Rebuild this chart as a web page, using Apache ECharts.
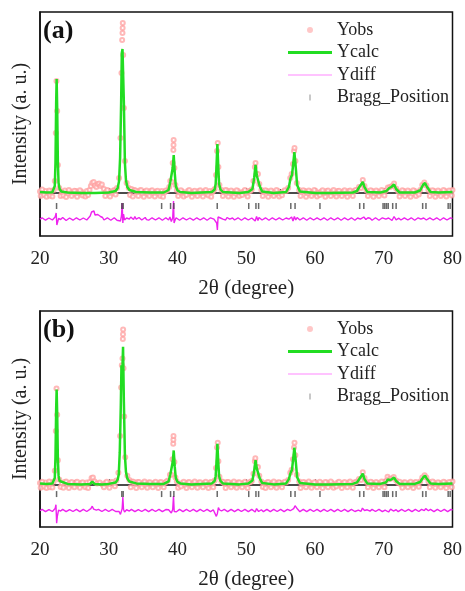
<!DOCTYPE html>
<html lang="en">
<head>
    <meta charset="UTF-8">
    <title>XRD refinement</title>
</head>
<style type="text/css">
    body{
        margin:0;
        background:#fff;
    }
    .xrd-chart{
        width: 465px;
        height: 591px;
    }
</style>
<body>
    <div class="xrd-chart"></div>
</body>
<script type="text/javascript" src="https://cdn.jsdelivr.net/npm/echarts@6/dist/echarts.min.js"></script>
<script type="text/javascript">
var xTicks = [20, 30, 40, 50, 60, 70, 80];

// Bragg reflection positions (2theta), same phase in both panels
var braggPos = [22.41, 31.9, 32.1, 37.69, 38.99, 39.47, 45.78, 50.36, 51.41, 51.8,
    56.48, 57.1, 60.72, 66.5, 67.1, 69.9, 70.15, 70.4, 70.65, 71.3, 71.8,
    75.66, 76.14, 79.37, 79.66];

// ---- panel (a) ----
var obsA = [[20,15],[20.4,-10],[20.8,20],[21.2,0],[21.6,18],[22.0,30],[22.15,120],[22.3,600],[22.4,1120],[22.5,820],[22.6,280],[22.8,50],
    [23.2,10],[23.6,25],[24.0,-5],[24.4,15],[24.8,-10],[25.2,20],[25.6,0],[26.0,15],[26.4,-10],[26.8,20],[27.2,30],[27.4,70],[27.6,100],
    [27.8,110],[28.0,75],[28.2,60],[28.4,90],[28.6,95],[28.8,70],[29.0,85],[29.3,40],[29.6,10],[30.0,20],[30.4,-5],[30.8,30],[31.2,50],
    [31.5,150],[31.7,550],[31.85,1200],[31.95,1530],[32.0,1600],[32.02,1650],[32.04,1700],[32.1,1380],[32.2,850],[32.35,320],[32.6,100],
    [32.9,50],[33.3,40],[33.7,30],[34.1,10],[34.5,25],[34.9,-5],[35.3,15],[35.7,-10],[36.1,20],[36.5,0],[36.9,15],[37.3,-5],[37.7,20],
    [38.1,5],[38.5,25],[38.8,60],[38.95,120],[39.15,110],[39.3,300],[39.4,430],[39.42,480],[39.44,530],[39.55,250],[39.7,80],[39.9,30],
    [40.3,0],[40.7,15],[41.1,-10],[41.5,20],[41.9,0],[42.3,15],[42.7,-5],[43.1,20],[43.5,0],[43.9,15],[44.3,-10],[44.7,20],[45.1,10],
    [45.4,40],[45.6,180],[45.75,420],[45.85,500],[45.95,260],[46.1,80],[46.4,30],[46.8,10],[47.2,25],[47.6,-5],[48.0,15],[48.4,-10],
    [48.8,20],[49.2,0],[49.6,15],[50.0,-5],[50.4,20],[50.8,35],[51.05,120],[51.25,260],[51.35,300],[51.5,190],[51.7,190],[51.9,90],
    [52.2,30],[52.6,10],[53.0,20],[53.4,-5],[53.8,15],[54.2,-10],[54.6,20],[55.0,0],[55.4,15],[55.8,20],[56.1,50],[56.4,150],[56.6,190],
    [56.8,290],[56.95,420],[57.02,450],[57.15,320],[57.35,100],[57.7,30],[58.1,10],[58.5,20],[58.9,-5],[59.3,15],[59.7,-10],[60.1,20],
    [60.5,0],[60.9,15],[61.3,-5],[61.7,20],[62.1,0],[62.5,15],[62.9,-10],[63.3,20],[63.7,0],[64.1,15],[64.5,-5],[64.9,20],[65.3,5],
    [65.7,20],[66.1,30],[66.4,60],[66.7,50],[66.95,130],[67.2,70],[67.5,25],[67.9,5],[68.3,20],[68.7,-5],[69.1,15],[69.5,0],[69.9,20],
    [70.3,25],[70.6,55],[70.9,60],[71.2,70],[71.5,95],[71.8,45],[72.1,15],[72.5,0],[72.9,20],[73.3,-5],[73.7,15],[74.1,-10],[74.5,20],
    [74.9,5],[75.3,30],[75.6,80],[75.9,105],[76.2,75],[76.5,30],[76.9,10],[77.3,20],[77.7,-5],[78.1,15],[78.5,-10],[78.9,20],[79.3,0],
    [79.7,20],[80.0,30]];

// extra observed points along the background (the scatter band)
var obsBgA = [[20.1,-30],[20.3,35],[20.6,-20],[20.95,-38],[21.35,25],[21.45,-28],[21.8,-35],[23.0,-30],[23.4,-25],[23.8,-40],[24.2,30],
    [24.6,-30],[25.0,22],[25.4,-38],[25.8,28],[26.2,-25],[26.6,-35],[27.0,-20],[29.5,-30],[29.8,30],[30.2,-35],[30.6,20],[31.0,-15],
    [33.1,-20],[33.5,-35],[33.9,25],[34.3,-30],[34.7,30],[35.1,-38],[35.5,25],[35.9,-30],[36.3,28],[36.7,-35],[37.1,22],[37.5,-30],
    [37.9,-38],[38.3,25],[40.1,-30],[40.5,28],[40.9,-35],[41.3,-20],[41.7,30],[42.1,-38],[42.5,22],[42.9,-30],[43.3,28],[43.7,-35],
    [44.1,30],[44.5,-25],[44.9,-38],[45.2,25],[46.6,-30],[47.0,30],[47.4,-35],[47.8,25],[48.2,-38],[48.6,28],[49.0,-30],[49.4,-20],
    [49.8,30],[50.2,-35],[50.6,20],[52.4,-30],[52.8,28],[53.2,-38],[53.6,25],[54.0,-30],[54.4,30],[54.8,-35],[55.2,-22],[55.6,28],
    [57.9,-30],[58.3,28],[58.7,-38],[59.1,25],[59.5,-30],[59.9,30],[60.3,-35],[60.7,-20],[61.1,28],[61.5,-38],[61.9,25],[62.3,-30],
    [62.7,30],[63.1,-35],[63.5,22],[63.9,-30],[64.3,28],[64.7,-38],[65.1,25],[65.5,-30],[65.9,30],[67.7,-30],[68.1,28],[68.5,-38],
    [68.9,25],[69.3,-30],[69.7,30],[70.1,-25],[72.3,-35],[72.7,28],[73.1,-30],[73.5,25],[73.9,-38],[74.3,28],[74.7,-30],[75.1,-15],
    [76.7,-30],[77.1,28],[77.5,-38],[77.9,25],[78.3,-30],[78.7,30],[79.1,-35],[79.5,25],[79.9,-25]];

var calcA = [[20,10],[21,5],[21.8,8],[22.0,20],[22.15,70],[22.25,300],[22.35,900],[22.42,1140],[22.5,850],[22.6,300],[22.7,100],
    [22.85,40],[23.1,15],[24,5],[26,0],[28,0],[30,5],[31.0,20],[31.3,50],[31.5,120],[31.65,350],[31.8,900],[31.9,1400],[32.0,1440],
    [32.1,1420],[32.2,900],[32.35,300],[32.5,130],[32.7,60],[33.0,30],[34,10],[36,5],[38,5],[38.7,30],[38.95,110],[39.1,90],[39.3,250],
    [39.45,380],[39.6,200],[39.75,70],[40.0,25],[40.4,10],[42,0],[45,10],[45.4,35],[45.55,90],[45.68,280],[45.8,490],[45.92,280],
    [46.05,90],[46.25,35],[46.6,10],[49,0],[50.3,10],[50.9,40],[51.15,150],[51.35,280],[51.55,170],[51.75,180],[51.95,70],[52.3,15],
    [54,0],[55.8,10],[56.2,60],[56.45,150],[56.65,180],[56.85,300],[57.0,410],[57.15,300],[57.4,80],[57.8,15],[60,0],[62,0],[65.5,5],
    [66.1,20],[66.4,55],[66.65,40],[66.95,110],[67.2,60],[67.6,10],[69.5,5],[70.4,20],[70.8,50],[71.1,60],[71.5,85],[71.8,40],[72.3,5],
    [74.5,5],[75.3,25],[75.7,80],[76.0,100],[76.3,60],[76.8,10],[78,5],[80,10]];

var diffA = [[20,-262],[20.3,-248],[20.5,-250],[20.8,-272],[21,-268],[21.3,-250],[21.5,-255],[21.8,-270],[22,-262],[22.2,-240],
    [22.35,-200],[22.45,-320],[22.55,-300],[22.7,-255],[23,-265],[23.3,-245],[23.5,-252],[23.8,-275],[24,-268],[24.3,-250],[24.5,-256],
    [24.8,-272],[25,-264],[25.3,-248],[25.5,-250],[25.8,-270],[26,-266],[26.3,-250],[26.5,-255],[26.8,-270],[27,-262],[27.3,-230],
    [27.5,-190],[27.7,-210],[27.85,-180],[28.0,-220],[28.2,-240],[28.4,-215],[28.6,-200],[28.8,-235],[29.1,-245],[29.3,-270],[29.5,-265],
    [29.8,-248],[30,-255],[30.3,-272],[30.5,-268],[30.8,-248],[31,-250],[31.2,-272],[31.4,-265],[31.7,-280],[31.85,-230],[31.95,-100],
    [32.05,-300],[32.15,-210],[32.3,-270],[32.6,-250],[32.8,-270],[33,-262],[33.2,-240],[33.4,-245],[33.6,-265],[33.8,-235],[34,-262],
    [34.2,-255],[34.4,-245],[34.6,-265],[34.8,-270],[35,-250],[35.3,-245],[35.5,-266],[35.8,-272],[36,-254],[36.3,-248],[36.5,-262],
    [36.8,-270],[37,-250],[37.3,-248],[37.5,-268],[37.8,-272],[38,-255],[38.3,-248],[38.5,-262],[38.7,-270],[38.9,-240],[39.1,-285],
    [39.3,-250],[39.42,-80],[39.5,-300],[39.65,-270],[39.8,-248],[40,-255],[40.3,-272],[40.5,-265],[40.8,-248],[41,-252],[41.3,-270],
    [41.5,-266],[41.8,-250],[42,-255],[42.3,-272],[42.5,-262],[42.8,-248],[43,-250],[43.3,-270],[43.5,-265],[43.8,-248],[44,-254],
    [44.3,-272],[44.5,-262],[44.8,-248],[45,-250],[45.3,-262],[45.5,-270],[45.7,-300],[45.8,-370],[45.9,-240],[46.1,-220],[46.25,-250],
    [46.4,-240],[46.6,-262],[46.8,-255],[47.0,-270],[47.2,-245],[47.4,-255],[47.6,-262],[47.8,-248],[48,-250],[48.3,-270],[48.5,-265],
    [48.8,-248],[49,-252],[49.3,-272],[49.5,-262],[49.8,-248],[50,-250],[50.3,-270],[50.5,-266],[50.8,-250],[51,-248],[51.3,-280],
    [51.5,-235],[51.7,-275],[51.85,-245],[52,-250],[52.3,-270],[52.5,-262],[52.8,-248],[53,-252],[53.3,-272],[53.5,-266],[53.8,-248],
    [54,-255],[54.3,-270],[54.5,-262],[54.8,-248],[55,-250],[55.3,-270],[55.5,-266],[55.8,-250],[56,-252],[56.2,-262],[56.4,-270],
    [56.6,-240],[56.8,-280],[57.0,-235],[57.2,-270],[57.4,-245],[57.6,-250],[57.8,-270],[58,-262],[58.3,-248],[58.5,-252],[58.8,-272],
    [59,-265],[59.3,-248],[59.5,-254],[59.8,-270],[60,-262],[60.3,-248],[60.5,-250],[60.8,-270],[61,-265],[61.3,-248],[61.5,-255],
    [61.8,-272],[62,-262],[62.3,-248],[62.5,-250],[62.8,-270],[63,-264],[63.3,-248],[63.5,-254],[63.8,-272],[64,-262],[64.3,-248],
    [64.5,-250],[64.8,-270],[65,-265],[65.3,-248],[65.5,-254],[65.8,-272],[66,-262],[66.2,-250],[66.4,-245],[66.6,-262],[66.8,-270],
    [67.1,-240],[67.4,-265],[67.7,-248],[68,-252],[68.3,-272],[68.5,-262],[68.8,-248],[69,-250],[69.3,-272],[69.5,-265],[69.8,-248],
    [70,-252],[70.3,-262],[70.5,-268],[70.7,-250],[70.9,-245],[71.2,-275],[71.5,-235],[71.8,-268],[72,-248],[72.2,-252],[72.5,-270],
    [72.7,-262],[73,-248],[73.2,-250],[73.5,-270],[73.7,-264],[74,-248],[74.2,-254],[74.5,-272],[74.7,-262],[75,-248],[75.2,-250],
    [75.4,-262],[75.6,-266],[75.8,-250],[76,-245],[76.2,-270],[76.4,-262],[76.7,-248],[76.9,-250],[77.2,-270],[77.4,-264],[77.7,-248],
    [77.9,-252],[78.2,-272],[78.4,-262],[78.7,-248],[78.9,-250],[79.2,-270],[79.4,-264],[79.7,-248],[80,-255]];

// ---- panel (b) ----
var obsB = [[20,15],[20.4,-10],[20.8,20],[21.2,0],[21.6,18],[22.0,30],[22.15,140],[22.3,550],[22.4,990],[22.5,720],[22.6,250],[22.8,50],
    [23.2,10],[23.6,25],[24.0,-5],[24.4,15],[24.8,-10],[25.2,20],[25.6,0],[26.0,15],[26.4,-10],[26.8,20],[27.2,25],[27.5,65],[27.7,70],
    [27.95,30],[28.3,10],[28.7,20],[29.1,-5],[29.5,15],[29.9,0],[30.3,20],[30.7,10],[31.1,40],[31.4,120],[31.65,500],[31.8,1000],
    [31.9,1230],[32.0,1300],[32.05,1500],[32.07,1550],[32.09,1600],[32.15,1200],[32.25,700],[32.4,280],[32.7,90],[33.0,45],[33.4,30],
    [33.8,10],[34.2,25],[34.6,-5],[35.0,15],[35.4,-10],[35.8,20],[36.2,0],[36.6,15],[37.0,-5],[37.4,20],[37.8,5],[38.2,20],[38.6,40],
    [38.9,100],[39.1,100],[39.28,260],[39.38,420],[39.4,460],[39.42,500],[39.55,230],[39.7,70],[39.9,30],[40.3,0],[40.7,15],[41.1,-10],
    [41.5,20],[41.9,0],[42.3,15],[42.7,-5],[43.1,20],[43.5,0],[43.9,15],[44.3,-10],[44.7,20],[45.1,10],[45.4,40],[45.6,170],[45.75,380],
    [45.85,430],[45.95,240],[46.1,80],[46.4,30],[46.8,10],[47.2,25],[47.6,-5],[48.0,15],[48.4,-10],[48.8,20],[49.2,0],[49.6,15],[50.0,-5],
    [50.4,20],[50.8,35],[51.05,110],[51.25,240],[51.32,270],[51.5,180],[51.7,180],[51.9,90],[52.2,30],[52.6,10],[53.0,20],[53.4,-5],
    [53.8,15],[54.2,-10],[54.6,20],[55.0,0],[55.4,15],[55.8,20],[56.1,45],[56.4,120],[56.6,150],[56.8,260],[56.95,380],[57.02,430],
    [57.15,300],[57.35,100],[57.7,30],[58.1,10],[58.5,20],[58.9,-5],[59.3,15],[59.7,-10],[60.1,20],[60.5,0],[60.9,15],[61.3,-5],[61.7,20],
    [62.1,0],[62.5,15],[62.9,-10],[63.3,20],[63.7,0],[64.1,15],[64.5,-5],[64.9,20],[65.3,5],[65.7,20],[66.1,30],[66.4,55],[66.7,45],
    [66.95,125],[67.2,65],[67.5,25],[67.9,5],[68.3,20],[68.7,-5],[69.1,15],[69.5,0],[69.9,20],[70.3,35],[70.55,80],[70.8,55],[71.1,60],
    [71.45,75],[71.8,40],[72.1,15],[72.5,0],[72.9,20],[73.3,-5],[73.7,15],[74.1,-10],[74.5,20],[74.9,5],[75.3,30],[75.6,70],[75.95,95],
    [76.2,70],[76.5,30],[76.9,10],[77.3,20],[77.7,-5],[78.1,15],[78.5,-10],[78.9,20],[79.3,0],[79.7,20],[80.0,30]];

var obsBgB = [[20.1,-35],[20.3,28],[20.6,-25],[20.95,-38],[21.35,30],[21.45,-30],[21.8,-32],[23.0,-28],[23.4,-35],[23.8,30],[24.2,-38],
    [24.6,25],[25.0,-30],[25.4,28],[25.8,-35],[26.2,22],[26.6,-30],[27.0,-38],[29.3,-30],[29.7,28],[30.1,-35],[30.5,25],[30.9,-20],
    [33.2,-30],[33.6,28],[34.0,-38],[34.4,25],[34.8,-30],[35.2,30],[35.6,-35],[36.0,22],[36.4,-30],[36.8,28],[37.2,-38],[37.6,25],
    [38.0,-30],[38.4,30],[40.1,-35],[40.5,-22],[40.9,28],[41.3,-38],[41.7,25],[42.1,-30],[42.5,30],[42.9,-35],[43.3,22],[43.7,-30],
    [44.1,28],[44.5,-38],[44.9,25],[45.2,-30],[46.6,28],[47.0,-38],[47.4,25],[47.8,-30],[48.2,30],[48.6,-35],[49.0,22],[49.4,-30],
    [49.8,28],[50.2,-38],[50.6,25],[52.4,-28],[52.8,-38],[53.2,25],[53.6,-30],[54.0,30],[54.4,-35],[54.8,22],[55.2,-30],[55.6,28],
    [57.9,-38],[58.3,25],[58.7,-30],[59.1,30],[59.5,-35],[59.9,22],[60.3,-30],[60.7,28],[61.1,-38],[61.5,25],[61.9,-30],[62.3,30],
    [62.7,-35],[63.1,-22],[63.5,28],[63.9,-38],[64.3,25],[64.7,-30],[65.1,30],[65.5,-35],[65.9,22],[67.7,-30],[68.1,28],[68.5,-38],
    [68.9,25],[69.3,-30],[69.7,30],[70.1,-30],[72.3,28],[72.7,-35],[73.1,22],[73.5,-30],[73.9,28],[74.3,-38],[74.7,25],[75.1,-25],
    [76.7,-30],[77.1,30],[77.5,-35],[77.9,22],[78.3,-30],[78.7,28],[79.1,-38],[79.5,25],[79.9,-30]];

var calcB = [[20,10],[21,5],[21.8,8],[22.0,20],[22.15,65],[22.25,280],[22.35,780],[22.42,980],[22.5,730],[22.6,260],[22.7,90],
    [22.85,35],[23.1,15],[24,5],[26,0],[27.3,5],[27.6,30],[27.9,5],[29,0],[30,5],[31.0,20],[31.3,50],[31.45,100],[31.6,330],[31.75,800],
    [31.85,1230],[31.95,1100],[32.08,1420],[32.2,850],[32.35,300],[32.5,130],[32.7,60],[33.0,30],[34,10],[36,5],[38,5],[38.7,30],
    [38.95,100],[39.1,85],[39.3,230],[39.45,350],[39.6,180],[39.75,65],[40.0,25],[40.4,10],[42,0],[45,10],[45.4,35],[45.55,85],
    [45.68,240],[45.8,420],[45.92,240],[46.05,85],[46.25,35],[46.6,10],[49,0],[50.3,10],[50.9,40],[51.15,140],[51.35,250],[51.55,160],
    [51.75,170],[51.95,65],[52.3,15],[54,0],[55.8,10],[56.2,55],[56.45,120],[56.65,150],[56.85,280],[57.0,380],[57.15,280],[57.4,75],
    [57.8,15],[60,0],[62,0],[65.5,5],[66.1,20],[66.4,50],[66.65,40],[66.95,110],[67.2,55],[67.6,10],[69.5,5],[70.3,20],[70.6,50],
    [70.9,45],[71.2,55],[71.5,70],[71.8,35],[72.3,5],[74.5,5],[75.3,25],[75.7,70],[76.0,90],[76.3,55],[76.8,10],[78,5],[80,10]];

var diffB = [[20,-272],[20.3,-258],[20.5,-262],[20.8,-282],[21,-278],[21.3,-260],[21.5,-265],[21.8,-280],[22,-272],[22.2,-250],
    [22.32,-210],[22.42,-400],[22.52,-330],[22.7,-265],[23,-275],[23.3,-258],[23.5,-262],[23.8,-282],[24,-278],[24.3,-260],[24.5,-265],
    [24.8,-280],[25,-274],[25.3,-258],[25.5,-260],[25.8,-282],[26,-276],[26.3,-258],[26.5,-264],[26.8,-280],[27,-272],[27.4,-250],
    [27.6,-225],[27.8,-255],[28.0,-275],[28.2,-265],[28.5,-258],[28.7,-275],[29.0,-280],[29.2,-262],[29.5,-258],[29.7,-276],[30.0,-280],
    [30.2,-265],[30.5,-258],[30.7,-275],[31.0,-280],[31.2,-262],[31.5,-280],[31.7,-310],[31.85,-330],[31.95,-250],[32.05,-130],
    [32.15,-260],[32.3,-285],[32.45,-270],[32.6,-262],[32.8,-280],[33,-275],[33.3,-258],[33.5,-262],[33.8,-282],[34,-278],[34.3,-260],
    [34.5,-264],[34.8,-280],[35,-274],[35.3,-258],[35.5,-262],[35.8,-282],[36,-276],[36.3,-258],[36.5,-264],[36.8,-280],[37,-274],
    [37.3,-258],[37.5,-262],[37.8,-282],[38,-278],[38.3,-260],[38.5,-265],[38.7,-262],[38.9,-275],[39.1,-295],[39.3,-260],[39.42,-120],
    [39.52,-280],[39.7,-268],[39.85,-282],[40,-276],[40.3,-258],[40.5,-262],[40.8,-282],[41,-275],[41.3,-258],[41.5,-264],[41.8,-280],
    [42,-276],[42.3,-258],[42.5,-262],[42.8,-282],[43,-274],[43.3,-258],[43.5,-264],[43.8,-280],[44,-276],[44.3,-258],[44.5,-262],
    [44.8,-282],[45,-274],[45.2,-262],[45.4,-280],[45.65,-330],[45.8,-300],[45.95,-240],[46.1,-262],[46.2,-255],[46.4,-275],[46.6,-270],
    [46.8,-258],[47,-260],[47.3,-282],[47.5,-275],[47.8,-258],[48,-262],[48.3,-282],[48.5,-276],[48.8,-258],[49,-264],[49.3,-280],
    [49.5,-274],[49.8,-258],[50,-262],[50.3,-282],[50.5,-276],[50.8,-258],[51,-262],[51.3,-285],[51.5,-250],[51.8,-280],[52,-260],
    [52.2,-262],[52.5,-282],[52.7,-275],[53,-258],[53.2,-262],[53.5,-282],[53.7,-276],[54,-258],[54.2,-264],[54.5,-280],[54.7,-274],
    [55,-258],[55.2,-262],[55.5,-282],[55.7,-276],[56,-258],[56.2,-264],[56.4,-272],[56.6,-280],[56.9,-250],[57.1,-220],[57.3,-235],
    [57.45,-255],[57.6,-262],[57.8,-282],[58,-275],[58.3,-258],[58.5,-262],[58.8,-282],[59,-276],[59.3,-258],[59.5,-264],[59.8,-280],
    [60,-274],[60.3,-258],[60.5,-262],[60.8,-282],[61,-276],[61.3,-258],[61.5,-264],[61.8,-280],[62,-274],[62.3,-258],[62.5,-262],
    [62.8,-282],[63,-276],[63.3,-258],[63.5,-264],[63.8,-280],[64,-274],[64.3,-258],[64.5,-262],[64.8,-282],[65,-276],[65.3,-258],
    [65.5,-264],[65.8,-280],[66,-274],[66.3,-265],[66.5,-260],[66.7,-278],[66.9,-245],[67.2,-270],[67.4,-258],[67.6,-262],[67.8,-282],
    [68,-276],[68.3,-258],[68.5,-264],[68.8,-280],[69,-274],[69.3,-258],[69.5,-262],[69.8,-282],[70,-276],[70.2,-265],[70.4,-258],
    [70.7,-285],[71,-255],[71.2,-268],[71.4,-275],[71.6,-258],[71.8,-262],[72.1,-282],[72.3,-276],[72.6,-258],[72.8,-264],[73.1,-280],
    [73.3,-274],[73.6,-258],[73.8,-262],[74.1,-282],[74.3,-276],[74.6,-258],[74.8,-264],[75.1,-280],[75.3,-274],[75.5,-258],[75.7,-262],
    [75.9,-272],[76.1,-250],[76.3,-262],[76.5,-272],[76.8,-258],[77,-262],[77.3,-282],[77.5,-276],[77.8,-258],[78,-264],[78.3,-280],
    [78.5,-274],[78.8,-258],[79,-262],[79.3,-282],[79.5,-276],[79.8,-258],[80,-266]];

var SERIF = 'Liberation Serif';

var panels = [
    {label: '(a)', top: 12, height: 224, yMin: -430, yMax: 1810, braggY: -130, obs: obsA.concat(obsBgA), calc: calcA, diff: diffA},
    {label: '(b)', top: 311, height: 223, yMin: -440, yMax: 1790, braggY: -100, obs: obsB.concat(obsBgB), calc: calcB, diff: diffB}
];

var grids = [], xAxes = [], yAxes = [], series = [], legends = [], graphics = [];

panels.forEach(function(p, i) {
    grids.push({
        left: 40, right: 10, top: p.top, height: p.height,
        show: true, borderColor: '#111', borderWidth: 1.5, backgroundColor: 'transparent'
    });
    xAxes.push({
        gridIndex: i, type: 'value', min: xTicks[0], max: xTicks[xTicks.length - 1], interval: 10,
        name: '2θ (degree)', nameLocation: 'middle', nameGap: 42,
        nameTextStyle: {fontFamily: SERIF, fontSize: 21, color: '#222'},
        axisLine: {show: true, lineStyle: {color: '#111', width: 1.5}},
        axisTick: {show: true, inside: true, length: 5, lineStyle: {color: '#111', width: 1.2}},
        minorTick: {show: true, splitNumber: 2, length: 4, lineStyle: {color: '#111', width: 1.2}},
        axisLabel: {margin: 14, fontFamily: SERIF, fontSize: 19, color: '#222'},
        splitLine: {show: false}
    });
    yAxes.push({
        gridIndex: i, type: 'value', min: p.yMin, max: p.yMax,
        name: 'Intensity (a. u.)', nameLocation: 'middle', nameGap: 9,
        nameTextStyle: {fontFamily: SERIF, fontSize: 20, color: '#222'},
        axisLine: {show: true, lineStyle: {color: '#111', width: 1.5}},
        axisTick: {show: false},
        axisLabel: {show: false},
        splitLine: {show: false}
    });
    series.push({
        name: 'Yobs', type: 'scatter', xAxisIndex: i, yAxisIndex: i,
        data: p.obs, symbol: 'emptyCircle', symbolSize: 4, z: 1,
        itemStyle: {color: '#ffa0a0', borderWidth: 1, opacity: 0.75}
    });
    series.push({
        name: 'Ycalc', type: 'line', xAxisIndex: i, yAxisIndex: i,
        data: p.calc, symbol: 'none', z: 3,
        lineStyle: {color: '#22dd22', width: 2.5}
    });
    series.push({
        name: 'Ydiff', type: 'line', xAxisIndex: i, yAxisIndex: i,
        data: p.diff, symbol: 'none', z: 3,
        lineStyle: {color: '#ee22ee', width: 1.4}
    });
    series.push({
        name: 'Bragg_Position', type: 'scatter', xAxisIndex: i, yAxisIndex: i,
        data: braggPos.map(function(b) { return [b, p.braggY]; }),
        symbol: 'rect', symbolSize: [1.5, 6], z: 4,
        itemStyle: {color: '#444'}
    });
    legends.push({
        orient: 'vertical', left: 283, top: p.top + 4, itemWidth: 44, itemHeight: 6, itemGap: 4.5,
        selectedMode: false,
        textStyle: {fontFamily: SERIF, fontSize: 18, color: '#222'},
        data: [
            {name: 'Yobs', icon: 'circle', itemStyle: {color: '#ffb4b4', borderWidth: 0}},
            {name: 'Ycalc', icon: 'path://M0,0L44,0L44,2.8L0,2.8Z', itemStyle: {color: '#22dd22', borderWidth: 0}},
            {name: 'Ydiff', icon: 'path://M0,0L44,0L44,1.2L0,1.2Z', itemStyle: {color: '#ff88ff', borderWidth: 0}},
            {name: 'Bragg_Position', icon: 'path://M0,0L1,0L1,6L0,6Z', itemStyle: {color: '#777', borderWidth: 0}}
        ]
    });
    graphics.push({
        type: 'text', left: 43, top: p.top + 6,
        style: {text: p.label, font: 'bold 26px "Liberation Serif"', fill: '#111'}
    });
});

var option = {
    animation: false,
    grid: grids,
    xAxis: xAxes,
    yAxis: yAxes,
    legend: legends,
    graphic: graphics,
    series: series
};
var myChart = echarts.init(document.querySelector('.xrd-chart'));
myChart.setOption(option);
</script>
</html>
